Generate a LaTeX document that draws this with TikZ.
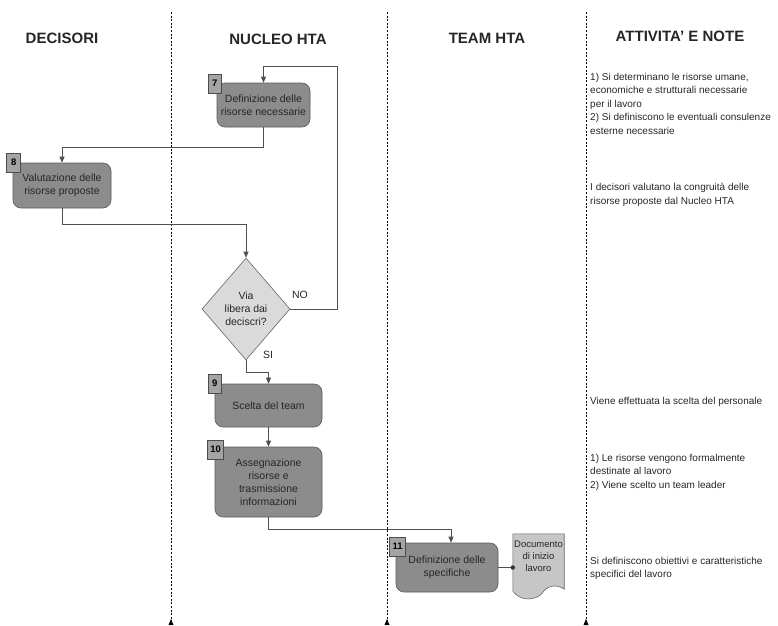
\documentclass[tikz,border=0pt]{standalone}
\usepackage{fontspec}
\setmainfont{Liberation Sans}
\usetikzlibrary{shapes.geometric,arrows.meta,calc}

\definecolor{boxgray}{HTML}{8C8C8C}
\definecolor{boxline}{HTML}{5A5A5A}
\definecolor{taggray}{HTML}{A4A4A4}
\definecolor{diagray}{HTML}{DADADA}
\definecolor{docgray}{HTML}{C6C6C6}
\definecolor{wire}{HTML}{505050}

\tikzset{
  stepbox/.style={draw=boxline, fill=boxgray, rounded corners=8pt, line width=0.6pt,
    align=center, font=\fontsize{10.5}{13}\selectfont, text=black!85, inner sep=2pt},
  tagbox/.style={draw=black!70, fill=taggray, line width=0.6pt, minimum height=19pt,
    inner sep=1pt, font=\fontsize{9.5}{10}\selectfont\bfseries, anchor=center},
  decision/.style={diamond, draw=black!60, fill=diagray, line width=0.6pt, inner sep=0pt,
    minimum width=88pt, minimum height=102pt, align=center,
    font=\fontsize{10.5}{13}\selectfont, text=black!85},
  flow/.style={draw=wire, line width=0.7pt, -{Triangle[width=5pt,length=6pt]}},
  plain/.style={draw=wire, line width=0.7pt},
  lane/.style={draw=black, line width=0.8pt, dash pattern=on 2pt off 1.6pt},
  lanehead/.style={font=\fontsize{15}{18}\selectfont\bfseries, text=black!85},
  note/.style={anchor=north west, align=left, inner sep=0pt,
    font=\fontsize{10}{13.5}\selectfont, text=black!85},
  flag/.style={font=\fontsize{10.5}{12}\selectfont, text=black!85, inner sep=0pt}
}

\begin{document}
\begin{tikzpicture}[x=1pt,y=-1pt]
\useasboundingbox (0,0) rectangle (778,625);

% swimlane separators
\foreach \lx/\nm in {171/a,387/b,586/c}{
  \draw[lane] (\lx,12) -- (\lx,621);
  \fill (\lx-2.5,625) -- (\lx,619) -- (\lx+2.5,625) -- cycle;
}

% lane titles
\node[lanehead] (hdec) at (62,38) {DECISORI};
\node[lanehead] (hnuc) at (278,39) {NUCLEO HTA};
\node[lanehead] (hteam) at (487,38) {TEAM HTA};
\node[lanehead] (hatt) at (680,36) {ATTIVITA' E NOTE};

% process steps
\node[stepbox, minimum width=93pt, minimum height=44pt] (s7) at (263.5,105) {Definizione delle\\risorse necessarie};
\node[stepbox, minimum width=98pt, minimum height=45pt] (s8) at (62,185.5) {Valutazione delle\\risorse proposte};
\node[decision] (dia) at (246,309) {Via\\libera dai\\deciscri?};
\node[stepbox, minimum width=107pt, minimum height=43pt] (s9) at (268.5,405.5) {Scelta del team};
\node[stepbox, minimum width=107pt, minimum height=70pt] (s10) at (268.5,482) {Assegnazione\\risorse e\\trasmissione\\informazioni};
\node[stepbox, minimum width=102pt, minimum height=49pt] (s11) at (447,567.5) {Definizione delle\\specifiche};

% step numbers
\node[tagbox, minimum width=13pt] (t7) at ($(s7.north west)+(-2,1)$) {7};
\node[tagbox, minimum width=14pt] (t8) at ($(s8.north west)+(1,0)$) {8};
\node[tagbox, minimum width=13pt] (t9) at ($(s9.north west)+(0,0)$) {9};
\node[tagbox, minimum width=16pt] (t10) at ($(s10.north west)+(1,3)$) {10};
\node[tagbox, minimum width=16pt] (t11) at ($(s11.north west)+(2,4)$) {11};

% output document
\node[minimum width=51pt, minimum height=62pt, inner sep=0pt] (doc) at (538.5,565) {};
\path[fill=docgray, draw=black!60, line width=0.6pt]
  (doc.north west) -- (doc.north east) -- ($(doc.south east)+(0,-7)$)
  .. controls ($(doc.south east)+(-8,-13)$) and ($(doc.south east)+(-18,-10)$) .. ($(doc.south east)+(-22,-3)$)
  .. controls ($(doc.south east)+(-28,4)$) and ($(doc.south west)+(8,6)$) .. ($(doc.south west)+(0,-5)$)
  -- cycle;
\node[align=center, font=\fontsize{9.5}{12}\selectfont, text=black!85, inner sep=0pt]
  (doctext) at ($(doc.center)+(0,-9)$) {Documento\\di inizio\\lavoro};

% connectors
\draw[flow] (s7.south) -- ++(0,20) -| (s8.north);
\draw[flow] (s8.south) -- ++(0,16) -| (dia.north);
\draw[flow] (dia.east) -- ++(47,0) |- ($(s7.north)+(0,-16)$) -- (s7.north);
\draw[flow] (dia.south) -- ++(0,12) -| (s9.north);
\draw[flow] (s9.south) -- (s10.north);
\draw[flow] (s10.south) -- ++(0,12) -| ($(s11.north)+(4,0)$);
\draw[plain] (s11.east) -- (s11.east -| doc.west);
\fill[black!80] (s11.east -| doc.west) circle (2.2pt);

% branch labels
\node[flag] (lno) at (300,295) {NO};
\node[flag] (lsi) at (268,355) {SI};

% notes column
\node[note] (n1) at (590,73) {1) Si determinano le risorse umane,\\economiche e strutturali necessarie\\per il lavoro\\2) Si definiscono le eventuali consulenze\\esterne necessarie};
\node[note] (n2) at (590,183) {I decisori valutano la congruità delle\\risorse proposte dal Nucleo HTA};
\node[note] (n3) at (590,397) {Viene effettuata la scelta del personale};
\node[note] (n4) at (590,454) {1) Le risorse vengono formalmente\\destinate al lavoro\\2) Viene scelto un team leader};
\node[note] (n5) at (590,557) {Si definiscono obiettivi e caratteristiche\\specifici del lavoro};
\end{tikzpicture}
\end{document}
